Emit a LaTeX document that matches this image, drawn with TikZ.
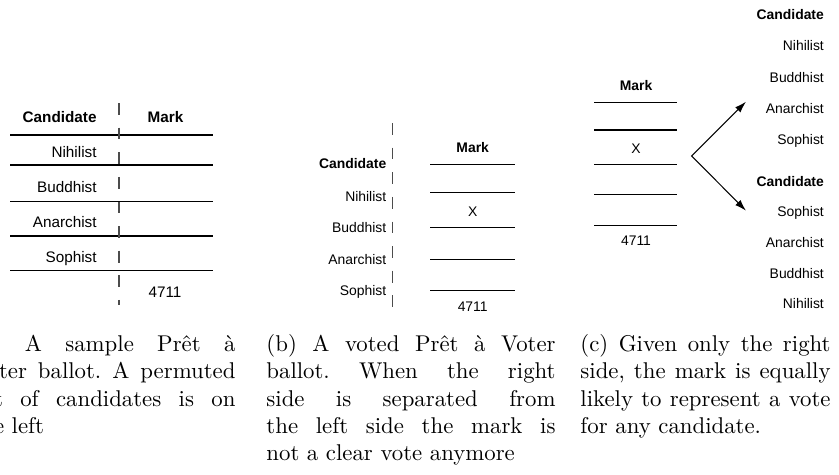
\documentclass[tikz,border=0pt]{standalone}
\usepackage{fontspec}
\newfontfamily\ballotfont{Liberation Sans}
\usetikzlibrary{arrows.meta}

\begin{document}
\begin{tikzpicture}[
                x=0.4386pt, y=-0.4386pt,% one unit is one pixel of the sheet
                bighead/.style={font=\ballotfont\bfseries\fontsize{6.7}{8}\selectfont, inner sep=0pt, text height=4.8pt, text depth=0pt},
                bigtext/.style={font=\ballotfont\fontsize{6.7}{8}\selectfont, inner sep=0pt, text height=4.8pt, text depth=0pt},
                head/.style={font=\ballotfont\bfseries\fontsize{6.1}{7}\selectfont, inner sep=0pt, text height=4.37pt, text depth=0pt},
                entry/.style={font=\ballotfont\fontsize{6.1}{7}\selectfont, inner sep=0pt, text height=4.37pt, text depth=0pt},
                rule/.style={line width=0.45pt},
                perforation/.style={line width=0.55pt, black!70, dash pattern=on 5.2pt off 5.6pt},
                pointer/.style={line width=0.45pt, <->, >={Latex[length=5pt,width=3.2pt]}},
                caption/.style={anchor=base west, inner sep=0pt, align=justify, font=\normalsize\frenchspacing}
            ]

                \useasboundingbox (0,0) rectangle (839,474);

                % (a) the whole ballot
                \draw[rule]
                    (10,135)--(213,135) (10,165)--(213,165) (10,201.7)--(213,201.7)
                    (10,236)--(213,236) (10,270.7)--(213,270.7);
                \draw[perforation] (119,103)--(119,305);

                \node[bighead, anchor=east] (candA) at (97,116.7) {Candidate};
                \node[bighead] (markA) at (165.5,116.7) {Mark};
                \node[bigtext, anchor=east] (nihA) at (97,151.7) {Nihilist};
                \node[bigtext, anchor=east] (budA) at (97,186.7) {Buddhist};
                \node[bigtext, anchor=east] (anaA) at (97,221.7) {Anarchist};
                \node[bigtext, anchor=east] (sopA) at (97,256.7) {Sophist};
                \node[bigtext] (serialA) at (165,291.7) {4711};

                % (b) the halves shifted apart
                \draw[rule]
                    (430,164.3)--(515,164.3) (430,192.7)--(515,192.7) (430,227.7)--(515,227.7)
                    (430,259.3)--(515,259.3) (430,290.7)--(515,290.7);
                \draw[perforation] (392.3,123)--(392.3,318);

                \node[head, anchor=east] (candB) at (386.7,163.3) {Candidate};
                \node[entry, anchor=east] (nihB) at (386.7,196.7) {Nihilist};
                \node[entry, anchor=east] (budB) at (386.7,227.3) {Buddhist};
                \node[entry, anchor=east] (anaB) at (386.7,259.3) {Anarchist};
                \node[entry, anchor=east] (sopB) at (386.7,290.7) {Sophist};
                \node[head] (markB) at (472.7,147.7) {Mark};
                \node[entry] (crossB) at (472.7,211.7) {X};
                \node[entry] (serialB) at (472.7,306.7) {4711};

                % (c) right half only
                \draw[rule]
                    (594.3,102.3)--(677.3,102.3) (594.3,130)--(677.3,130) (594.3,164.3)--(677.3,164.3)
                    (594.3,194.3)--(677.3,194.3) (594.3,225.7)--(677.3,225.7);

                \node[head] (markC) at (636,86) {Mark};
                \node[entry] (crossC) at (636,148.3) {X};
                \node[entry] (serialC) at (636,240.7) {4711};

                \node[head, anchor=east] (candUp) at (824.3,15) {Candidate};
                \node[entry, anchor=east] (nihUp) at (824.3,46) {Nihilist};
                \node[entry, anchor=east] (budUp) at (824.3,77.3) {Buddhist};
                \node[entry, anchor=east] (anaUp) at (824.3,108.3) {Anarchist};
                \node[entry, anchor=east] (sopUp) at (824.3,139.3) {Sophist};
                \node[head, anchor=east] (candDown) at (824.3,181.7) {Candidate};
                \node[entry, anchor=east] (sopDown) at (824.3,211.7) {Sophist};
                \node[entry, anchor=east] (anaDown) at (824.3,242.7) {Anarchist};
                \node[entry, anchor=east] (budDown) at (824.3,273.3) {Buddhist};
                \node[entry, anchor=east] (nihDown) at (824.3,304) {Nihilist};

                \coordinate (fork) at (691.7,156);
                \coordinate (tipUp) at (746,101.7);
                \coordinate (tipDown) at (746,210.7);
                \draw[pointer] (tipUp)--(fork)--(tipDown);

                % captions
                \node[caption, text width=115.35pt] (capA) at (-28,351.5)
                    {(a) A sample Prêt à\linebreak Voter ballot. A permuted\linebreak list of candidates is on\linebreak the left};
                \node[caption, text width=126.8pt] (capB) at (266,351.5)
                    {(b) A voted Prêt à Voter\linebreak ballot. When the right\linebreak side is separated from\linebreak the left side the mark is\linebreak not a clear vote anymore};
                \node[caption, text width=109.7pt] (capC) at (580,351.5)
                    {(c) Given only the right\linebreak side, the mark is equally\linebreak likely to represent a vote\linebreak for any candidate.};

            \end{tikzpicture}
\end{document}
